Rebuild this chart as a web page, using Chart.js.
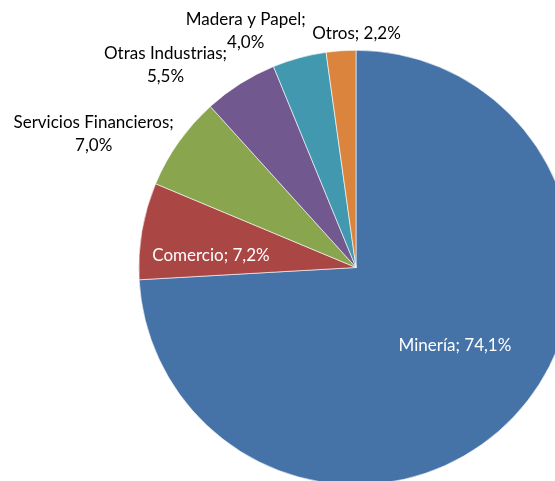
<!DOCTYPE html>
<html>
<head>
<meta charset="utf-8">
<script src="https://cdn.jsdelivr.net/npm/chart.js@4/dist/chart.umd.min.js"></script>
<style>
  html, body { margin: 0; padding: 0; background: #fff; overflow: hidden; }
  body { width: 555px; height: 481px; position: relative; }
  #myChart { position: absolute; left: 0; top: 0; }
</style>
</head>
<body>
<canvas id="myChart" width="712" height="535"></canvas>
<script>
// data block
const categories = ['Minería', 'Comercio', 'Servicios Financieros', 'Otras Industrias', 'Madera y Papel', 'Otros'];
const shares = [74.1, 7.2, 7.0, 5.5, 4.0, 2.2];
const sliceColors = ['#4572A7', '#AA4643', '#89A54E', '#71588F', '#4198AF', '#DB843D'];

const fontFamily = 'Lato, "Liberation Sans", sans-serif';

function pct(v) {
    return v.toFixed(1).replace('.', ',') + '%';
}

function overlaps(a, b) {
    return a.x1 < b.x2 && b.x1 < a.x2 && a.y1 < b.y2 && b.y1 < a.y2;
}

// draws "Categoria; xx,x%" next to or inside every slice
const sliceLabels = {
    id: 'sliceLabels',
    afterDatasetsDraw(chart) {
        const ctx = chart.ctx;
        const meta = chart.getDatasetMeta(0);
        ctx.save();
        ctx.font = '17px ' + fontFamily;
        ctx.textAlign = 'center';
        ctx.textBaseline = 'middle';
        const placed = [];
        // go from the last slice back so the top labels are placed first
        for (let i = meta.data.length - 1; i >= 0; i--) {
            const arc = meta.data[i];
            const p = arc.getProps(['x', 'y', 'startAngle', 'endAngle', 'outerRadius'], true);
            const mid = (p.startAngle + p.endAngle) / 2;
            const value = shares[i];
            const name = categories[i];
            if (value >= 7.1) {
                // inside the slice
                const a = mid - 0.09;
                const r = p.outerRadius * (value > 50 ? 0.58 : 0.67);
                ctx.fillStyle = '#ffffff';
                ctx.fillText(name + '; ' + pct(value), p.x + Math.cos(a) * r, p.y + Math.sin(a) * r);
                continue;
            }
            const cos = Math.cos(mid), sin = Math.sin(mid);
            const lines = name.length > 6 ? [name + ';', pct(value)] : [name + '; ' + pct(value)];
            const lineH = 23;
            const widths = lines.map(l => ctx.measureText(l).width);
            const w = Math.max(...widths);
            const h = lines.length * lineH;
            const r = p.outerRadius + 6;
            const ax = p.x + cos * r, ay = p.y + sin * r;
            let cx = cos < -0.2 ? ax - w / 2 * Math.min(1, -cos / 0.3) : ax + w * 0.18;
            const cy = ay + Math.pow(sin, 3) * h / 2;
            const boxes = () => lines.map((l, k) => {
                const ly = cy - h / 2 + lineH * (k + 0.5);
                return { x1: cx - widths[k] / 2, x2: cx + widths[k] / 2, y1: ly - 8, y2: ly + 8 };
            });
            // push left while it collides with a label already drawn
            let guard = 0;
            while (guard++ < 200 && boxes().some(b => placed.some(o => overlaps(b, o)))) {
                cx -= 1;
            }
            boxes().forEach(b => placed.push(b));
            ctx.fillStyle = '#000000';
            lines.forEach((l, k) => {
                ctx.fillText(l, cx, cy - h / 2 + lineH * (k + 0.5));
            });
        }
        ctx.restore();
    }
};

const data = {
    labels: categories,
    datasets: [{
        data: shares,
        backgroundColor: sliceColors,
        borderColor: '#ffffff',
        borderWidth: 0.6,
        hoverOffset: 0,
        offset: 0
    }]
};

// config block
const config = {
    type: 'pie',
    data: data,
    options: {
        responsive: false,
        maintainAspectRatio: false,
        animation: false,
        layout: {
            padding: { top: 50, bottom: 50, left: 0, right: 0 }
        },
        plugins: {
            legend: { display: false },
            tooltip: { enabled: false }
        }
    },
    plugins: [sliceLabels]
};

// init render block
const myChart = new Chart(
    document.getElementById('myChart'),
    config
);
</script>
</body>
</html>
